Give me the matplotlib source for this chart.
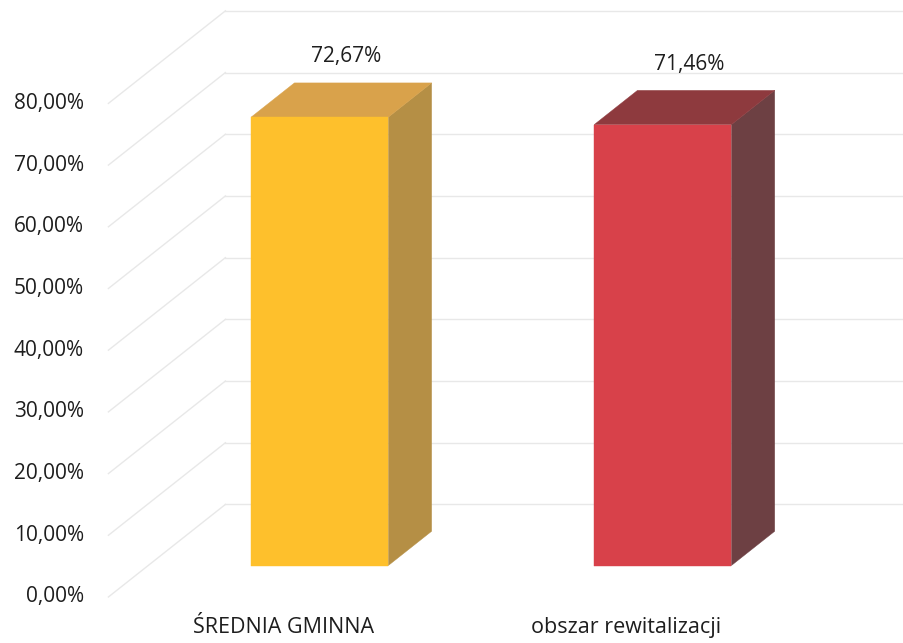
import matplotlib
matplotlib.use("Agg")
import matplotlib.pyplot as plt
from matplotlib.patches import Polygon

categories = ["ŚREDNIA GMINNA", "obszar rewitalizacji"]
values = [72.67, 71.46]
value_labels = ["72,67%", "71,46%"]
yticks = [0, 10, 20, 30, 40, 50, 60, 70, 80]
ytick_labels = ["0,00%", "10,00%", "20,00%", "30,00%", "40,00%", "50,00%", "60,00%", "70,00%", "80,00%"]

front_colors = ["#FEC02C", "#D8414A"]
top_colors = ["#D9A24B", "#8E3A3E"]
side_colors = ["#B58F45", "#6D4043"]

plt.rcParams['font.family'] = ['Open Sans', 'DejaVu Sans']

fig = plt.figure(figsize=(9.04, 6.43), dpi=100)
ax = fig.add_axes([0, 0, 1, 1])
ax.set_xlim(-0.816, 1.819)
ax.set_ylim(-7.46, 96.76)
ax.axis('off')

# oblique depth projection (full depth of plot)
DX = 0.341   # x-shift in category units for full depth
DY = 15.0    # y-shift in percent for full depth
x_left, x_right = -0.5, 1.5
grid_color = "#e8e8e8"

for v in yticks:
    ax.plot([x_left, x_left + DX], [v, v + DY], color=grid_color, lw=1.0, zorder=1)
    ax.plot([x_left + DX, x_right + DX], [v + DY, v + DY], color=grid_color, lw=1.0, zorder=1)

for v, lab in zip(yticks, ytick_labels):
    ax.text(-0.572, v, lab, ha='right', va='center', fontsize=15, color="#1e1e1e")

half_w = 0.2
zf, zb = 0.34, 0.71
for i, (val, fc, tc, sc) in enumerate(zip(values, front_colors, top_colors, side_colors)):
    c = i
    fx0, fx1 = c - half_w + zf * DX, c + half_w + zf * DX
    fy0 = zf * DY
    bx0, bx1 = c - half_w + zb * DX, c + half_w + zb * DX
    by0 = zb * DY
    ax.add_patch(Polygon([(fx1, fy0), (fx1, val + fy0), (bx1, val + by0), (bx1, by0)],
                         closed=True, facecolor=sc, edgecolor=sc, lw=0.3, zorder=3))
    ax.add_patch(Polygon([(fx0, val + fy0), (fx1, val + fy0), (bx1, val + by0), (bx0, val + by0)],
                         closed=True, facecolor=tc, edgecolor=tc, lw=0.3, zorder=3))
    ax.add_patch(Polygon([(fx0, fy0), (fx1, fy0), (fx1, val + fy0), (fx0, val + fy0)],
                         closed=True, facecolor=fc, edgecolor=fc, lw=0.3, zorder=4))
    xm = c + 0.5 * (zf + zb) * DX
    ax.text(xm + 0.015, val + 0.5 * (zf + zb) * DY + 7.0, value_labels[i],
            ha='center', va='center', fontsize=15, color="#1e1e1e", zorder=5)
    ax.text(c + 0.01, -5.0, categories[i], ha='center', va='center',
            fontsize=15.5, color="#1e1e1e")

fig.savefig("out.png", dpi=100, facecolor='white')
